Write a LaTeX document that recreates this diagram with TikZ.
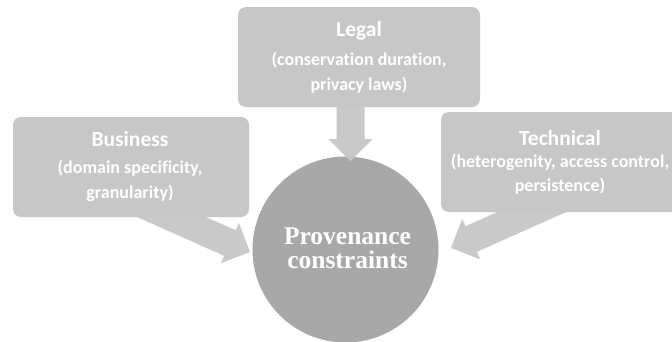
\documentclass[tikz,border=0pt]{standalone}
\usepackage{fontspec}
\usetikzlibrary{calc}
\newfontfamily\boxfont{Carlito}[Ligatures={NoCommon,NoRequired,NoContextual}]
\newfontfamily\circfont{Liberation Serif}
\definecolor{boxfill}{RGB}{199,199,199}
\definecolor{arrowfill}{RGB}{201,201,201}
\definecolor{circfill}{RGB}{168,168,168}
\tikzset{
  boxnode/.style={rectangle, rounded corners=8pt, fill=boxfill, draw=none, inner sep=0pt},
  boxtitle/.style={text=white, font=\boxfont\bfseries\fontsize{21.5}{25}\selectfont, anchor=base, inner sep=0pt},
  boxsub/.style={text=white, font=\boxfont\bfseries\fontsize{18}{20}\selectfont, anchor=base, inner sep=0pt},
  circtext/.style={text=white, font=\circfont\bfseries\fontsize{25.5}{25}\selectfont, anchor=base, inner sep=0pt},
}
\newcommand{\blockarrow}[3]{%
  \coordinate (#3) at ($(#2)!22pt!(#1)$);
  \fill[arrowfill] ($(#1)!14pt!90:(#2)$) -- ($(#3)!14pt!90:(#2)$) -- ($(#3)!22pt!90:(#2)$)
    -- (#2) -- ($(#3)!22pt!-90:(#2)$) -- ($(#3)!14pt!-90:(#2)$) -- ($(#1)!14pt!-90:(#2)$) -- cycle;
}
\begin{document}
\begin{tikzpicture}[x=1pt,y=-1pt]
\useasboundingbox (0,0) rectangle (672,341);
\clip (0,0) rectangle (672,341);
\fill[white] (0,0) rectangle (672,341);
% central circle
\node[circle, fill=circfill, draw=none, inner sep=0pt, minimum size=186pt] (circ) at (345.5,249.5) {};
% arrow coordinates
\coordinate (legstart) at (350.5,95);
\coordinate (legtip) at (350.5,161);
\coordinate (bizstart) at (122,195);
\coordinate (biztip) at (250,252);
\coordinate (tecstart) at (579,191);
\coordinate (tectip) at (451,248);
\blockarrow{legstart}{legtip}{leghb}
\blockarrow{bizstart}{biztip}{bizhb}
\blockarrow{tecstart}{tectip}{techb}
% boxes
\node[boxnode, minimum width=242pt, minimum height=100pt] (legal) at (359,57) {};
\node[boxnode, minimum width=236pt, minimum height=100pt] (business) at (131,167) {};
\node[boxnode, minimum width=238pt, minimum height=100pt] (technical) at (560,162) {};
% texts
\node[boxtitle] (legt) at (359,36) {Legal};
\node[boxsub] (legs1) at (359,65) {(conservation duration,};
\node[boxsub] (legs2) at (359,90) {privacy laws)};
\node[boxtitle] (bizt) at (130,146) {Business};
\node[boxsub] (bizs1) at (130,173) {(domain specificity,};
\node[boxsub] (bizs2) at (130,198) {granularity)};
\node[boxtitle] (tect) at (560,145) {Technical};
\node[boxsub] (tecs1) at (560,167) {(heterogenity, access control,};
\node[boxsub] (tecs2) at (560,191) {persistence)};
\node[circtext] (c1) at (347.5,244) {Provenance};
\node[circtext] (c2) at (347.5,268) {constraints};
\end{tikzpicture}
\end{document}
